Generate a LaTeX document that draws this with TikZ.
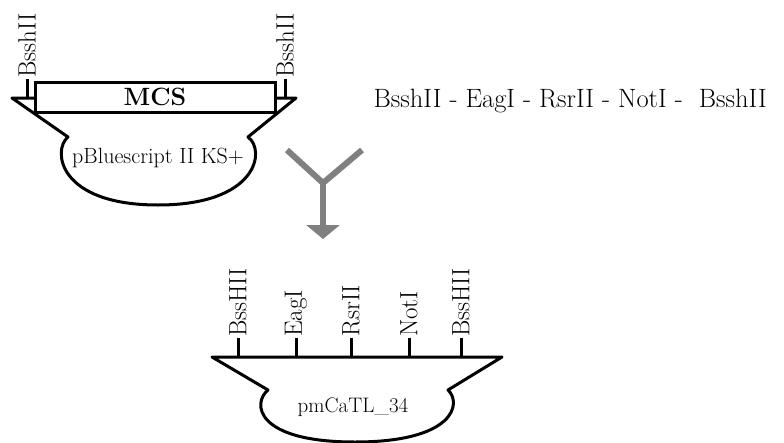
\documentclass[tikz,border=0pt]{standalone}
\usepackage{fontspec}
\usetikzlibrary{arrows.meta}

\tikzset{
  plasmid/.style={line width=3pt, line join=round},
  site/.style={rotate=90, anchor=west, inner sep=1pt, font=\fontsize{25}{25}\selectfont},
  tick/.style={line width=3pt},
  merge/.style={draw=gray, line width=6pt}
}

\begin{document}
\begin{tikzpicture}[x=1pt, y=-1pt]
  \useasboundingbox (0,0) rectangle (784,442);

  % vektor pBluescript
  \draw[plasmid, fill=white] (12,98) -- (68,137)
    .. controls (52,150) and (58,205) .. (158,205)
    .. controls (258,205) and (266,150) .. (248,137) -- (296,98) -- cycle;
  \node[draw, line width=3pt, fill=white, minimum width=240pt, minimum height=30pt,
        font=\fontsize{25}{25}\selectfont\bfseries] (mcs) at (155,97) {MCS};
  \node[font=\fontsize{22}{22}\selectfont] (pbs) at (158,158) {pBluescript II KS+};

  % restrikcne miesta vektora
  \foreach \x/\n in {27/l, 285/r} {
    \coordinate (v\n) at (\x,98);
    \node[site] (b\n) at (\x,79) {BsshII};
    \draw[tick] (b\n.west) -- (v\n);
  }

  % poradie miest v linkeri
  \node[anchor=base west, font=\fontsize{26.5}{26.5}\selectfont] (linker) at (370,107)
    {BsshII - EagI - RsrII - NotI -\ \ BsshII};

  % spojenie
  \coordinate (jl) at (287,150);
  \coordinate (jr) at (362,150);
  \coordinate (jc) at (323,183);
  \coordinate (jd) at (323,239);
  \draw[merge] (jl) -- (jc) -- (jr);
  \draw[merge, -{Triangle[width=33pt, length=14pt]}] (jc) -- (jd);

  % vysledny plazmid
  \draw[plasmid, fill=white] (212,357) -- (268,390)
    .. controls (252,403) and (255,442) .. (355,442)
    .. controls (455,442) and (462,403) .. (448,390) -- (502,357) -- cycle;
  \node[font=\fontsize{21}{21}\selectfont] (pmc) at (353,407) {pmCaTL\_34};

  \foreach \x/\t [count=\i] in {238/BssHII, 296/EagI, 351/RsrII, 409/NotI, 461/BssHII} {
    \coordinate (p\i) at (\x,357);
    \node[site] (s\i) at (\x,338) {\t};
    \draw[tick] (s\i.west) -- (p\i);
  }
\end{tikzpicture}
\end{document}
